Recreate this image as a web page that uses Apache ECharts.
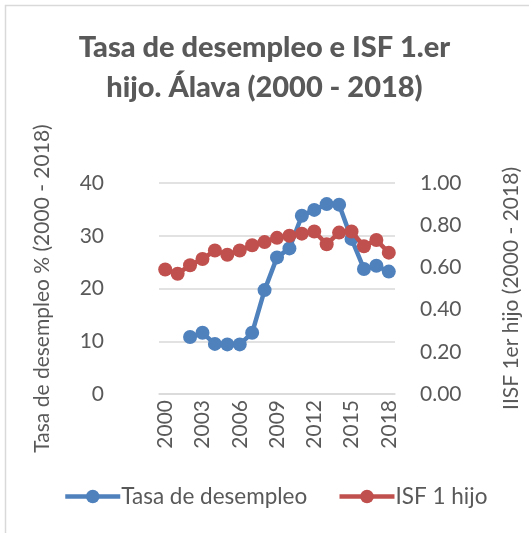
<!DOCTYPE html>
<html>
<head>
<meta charset="utf-8">
<script src="https://cdn.jsdelivr.net/npm/echarts@6/dist/echarts.min.js"></script>
<style>
  html, body { margin: 0; padding: 0; background: #fff; }
  #chart { width: 529px; height: 533px; }
</style>
</head>
<body>
<div id="chart"></div>
<script>
// years on the category axis
var years = ['2000', '2001', '2002', '2003', '2004', '2005', '2006', '2007', '2008', '2009',
             '2010', '2011', '2012', '2013', '2014', '2015', '2016', '2017', '2018'];
// unemployment rate (%), no data for 2000-2001
var desempleo = [null, null, 10.8, 11.6, 9.5, 9.4, 9.4, 11.6, 19.7, 25.9,
                 27.6, 33.8, 34.9, 36.0, 35.9, 29.4, 23.7, 24.3, 23.2];
// fertility index, first child
var isf = [0.59, 0.57, 0.61, 0.64, 0.68, 0.66, 0.68, 0.705, 0.72, 0.74,
           0.75, 0.76, 0.77, 0.71, 0.765, 0.77, 0.70, 0.73, 0.67];

var textColor = '#595959';
var font = 'Lato';

var chart = echarts.init(document.getElementById('chart'));
chart.setOption({
    backgroundColor: '#fff',
    textStyle: { fontFamily: font, color: textColor },
    title: {
        text: 'Tasa de desempleo e ISF 1.er\nhijo. Álava (2000 - 2018)',
        left: 'center',
        top: 28,
        padding: 0,
        textStyle: { fontFamily: font, fontSize: 29, fontWeight: 900, color: textColor, lineHeight: 40 }
    },
    graphic: [{
        type: 'rect',
        shape: { x: 5.5, y: 5.5, width: 700, height: 700 },
        style: { fill: 'none', stroke: '#d9d9d9', lineWidth: 1.5 },
        silent: true
    }],
    legend: {
        bottom: 20,
        left: 58,
        itemGap: 30,
        itemWidth: 55,
        itemHeight: 17,
        lineStyle: { width: 4.5 },
        textStyle: { fontFamily: font, fontSize: 22.5, color: textColor, padding: [0, 0, 0, -4] },
        data: ['Tasa de desempleo', 'ISF 1 hijo']
    },
    grid: { left: 159, right: 134, top: 183, bottom: 139 },
    xAxis: {
        type: 'category',
        data: years,
        boundaryGap: true,
        axisLine: { lineStyle: { color: '#d9d9d9', width: 1.5 } },
        axisTick: { show: false },
        axisLabel: { interval: 2, rotate: 90, margin: 6, fontSize: 21, color: textColor, fontFamily: font }
    },
    yAxis: [{
        type: 'value',
        min: 0, max: 40, interval: 10,
        name: 'Tasa de desempleo % (2000 - 2018)',
        nameLocation: 'middle',
        nameRotate: 90,
        nameGap: 106,
        nameTextStyle: { fontSize: 21, color: textColor, fontFamily: font },
        axisLine: { show: false },
        axisTick: { show: false },
        axisLabel: { margin: 55, fontSize: 21, color: textColor, fontFamily: font },
        splitLine: { lineStyle: { color: '#d9d9d9', width: 1.5 } }
    }, {
        type: 'value',
        min: 0, max: 1, interval: 0.2,
        name: 'IISF 1er hijo (2000 - 2018)',
        nameLocation: 'middle',
        nameRotate: 90,
        nameGap: 106,
        nameTextStyle: { fontSize: 21, color: textColor, fontFamily: font },
        axisLine: { show: false },
        axisTick: { show: false },
        axisLabel: {
            margin: 25, fontSize: 21, color: textColor, fontFamily: font,
            formatter: function (v) { return v.toFixed(2); }
        },
        splitLine: { show: false }
    }],
    series: [{
        name: 'Tasa de desempleo',
        type: 'line',
        yAxisIndex: 0,
        data: desempleo,
        color: '#4F81BD',
        symbol: 'circle',
        symbolSize: 14,
        showAllSymbol: true,
        lineStyle: { width: 4.5 },
        z: 2
    }, {
        name: 'ISF 1 hijo',
        type: 'line',
        yAxisIndex: 1,
        data: isf,
        color: '#C0504D',
        symbol: 'circle',
        symbolSize: 14,
        showAllSymbol: true,
        lineStyle: { width: 4.5 },
        z: 3
    }]
});
</script>
</body>
</html>
